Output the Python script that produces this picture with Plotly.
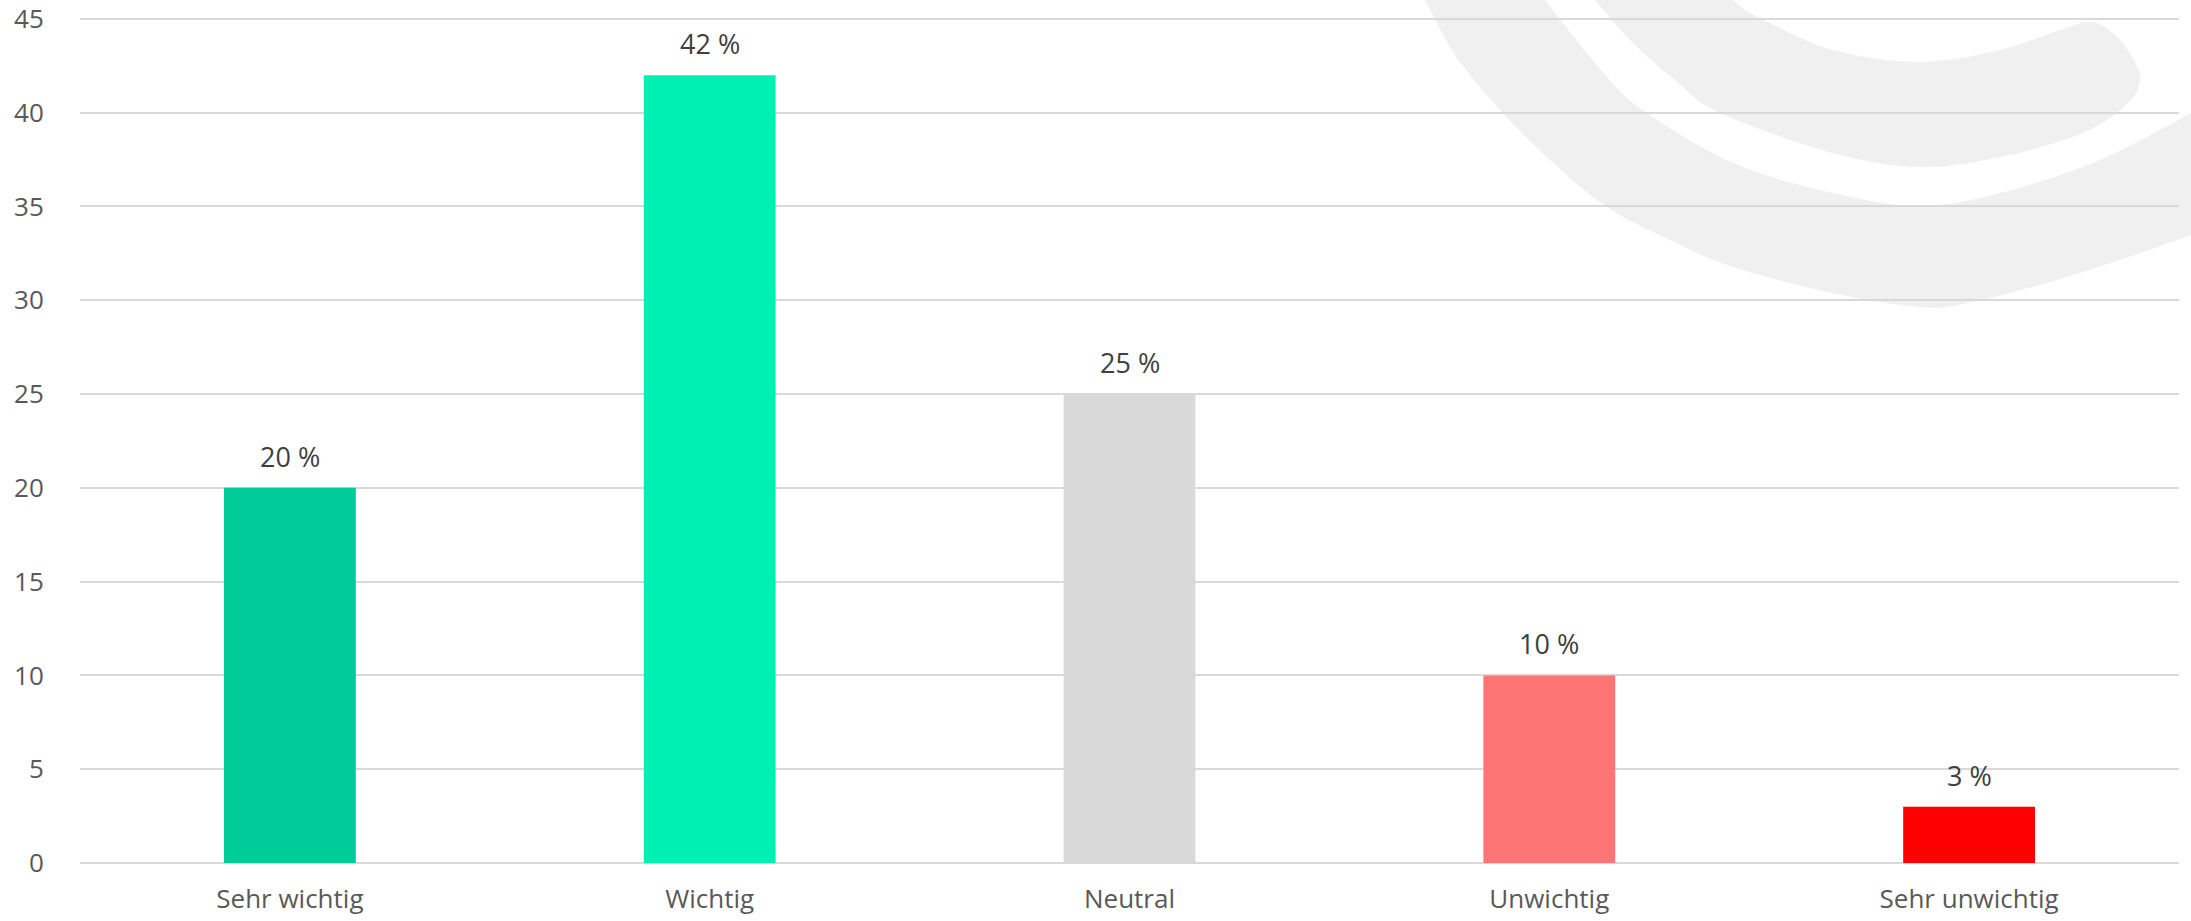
import plotly.graph_objects as go

categories = ["Sehr wichtig", "Wichtig", "Neutral", "Unwichtig", "Sehr unwichtig"]
values = [20, 42, 25, 10, 3]
labels = ["20 %", "42 %", "25 %", "10 %", "3 %"]
colors = ["#00CC99", "#00F0B4", "#D9D9D9", "#FF7575", "#FF0000"]
y_ticks = [0, 5, 10, 15, 20, 25, 30, 35, 40, 45]

W, H = 2191, 921
L, R, T, B = 80, 12, 17, 58
PW, PH = W - L - R, H - T - B


def to_paper(pt):
    x, y = pt
    return (x - L) / PW, (H - B - y) / PH


def smooth_path(points):
    """Closed Catmull-Rom through pixel points -> cubic bezier path in paper coords."""
    pts = [to_paper(p) for p in points]
    n = len(pts)
    d = f"M {pts[0][0]:.5f},{pts[0][1]:.5f} "
    for i in range(n):
        p0, p1, p2, p3 = pts[(i - 1) % n], pts[i], pts[(i + 1) % n], pts[(i + 2) % n]
        c1 = (p1[0] + (p2[0] - p0[0]) / 6, p1[1] + (p2[1] - p0[1]) / 6)
        c2 = (p2[0] - (p3[0] - p1[0]) / 6, p2[1] - (p3[1] - p1[1]) / 6)
        d += f"C {c1[0]:.5f},{c1[1]:.5f} {c2[0]:.5f},{c2[1]:.5f} {p2[0]:.5f},{p2[1]:.5f} "
    return d + "Z"


# decorative background watermark (pixel outline points)
outer_crescent = [
    (1418, -12), (1425, 0), (1455, 55), (1500, 110), (1550, 160), (1607, 207),
    (1670, 240), (1733, 267), (1833, 293), (1920, 307), (1967, 303), (2067, 277),
    (2191, 235), (2225, 218), (2225, 95), (2191, 113), (2100, 160), (2000, 193),
    (1920, 206), (1833, 193), (1733, 163), (1647, 113), (1607, 77), (1545, 0),
    (1538, -12),
]
inner_crescent = [
    (1588, -12), (1595, 0), (1633, 43), (1675, 80), (1720, 113), (1833, 153),
    (1920, 167), (2000, 157), (2083, 133), (2127, 104), (2140, 80), (2132, 57),
    (2113, 33), (2090, 22), (2057, 31), (2000, 50), (1920, 62), (1833, 50),
    (1760, 18), (1733, 0), (1722, -12),
]

fig = go.Figure()
fig.add_trace(go.Bar(
    x=categories, y=values, marker=dict(color=colors, line=dict(width=0)),
    showlegend=False, hoverinfo="skip",
))
for c, v, t in zip(categories, values, labels):
    fig.add_annotation(
        x=c, y=v, text=t, showarrow=False, yanchor="bottom", yshift=11,
        font=dict(family="Open Sans", size=27, color="#404040"),
    )

for path in (outer_crescent, inner_crescent):
    fig.add_shape(
        type="path", path=smooth_path(path), xref="paper", yref="paper",
        fillcolor="#F0F0F0", line=dict(width=0), layer="below",
    )

fig.update_layout(
    width=W, height=H,
    margin=dict(l=L, r=R, t=T, b=B, pad=0),
    paper_bgcolor="white", plot_bgcolor="rgba(0,0,0,0)",
    bargap=0.686,
    font=dict(family="Open Sans", size=26, color="#595959"),
)
fig.update_xaxes(
    showgrid=False, showline=False, zeroline=False, automargin=False,
    ticks="outside", ticklen=13, tickcolor="rgba(0,0,0,0)",
    ticklabeloverflow="allow",
    tickfont=dict(family="Open Sans", size=26, color="#595959"),
)
fig.update_yaxes(
    range=[0, 45.1], tickvals=y_ticks, showgrid=True, gridcolor="#D9D9D9", gridwidth=2,
    zeroline=True, zerolinecolor="#D9D9D9", zerolinewidth=2, showline=False,
    automargin=False, ticklabeloverflow="allow",
    ticks="outside", ticklen=30, tickcolor="rgba(0,0,0,0)",
    tickfont=dict(family="Open Sans", size=26, color="#595959"),
)

fig.write_html("out.html")
